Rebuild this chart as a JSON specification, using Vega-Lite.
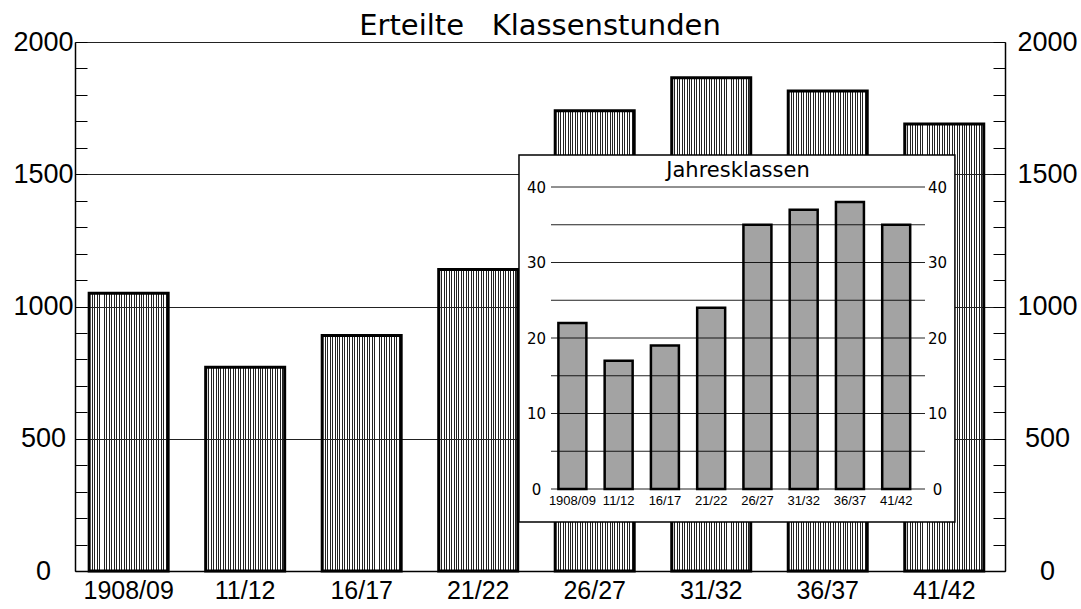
{
  "$schema": "https://vega.github.io/schema/vega-lite/v6.json",
  "width": 930,
  "height": 529,
  "autosize": "none",
  "padding": {"left": 75, "top": 42, "right": 76, "bottom": 38},
  "background": "white",
  "config": {"view": {"stroke": null}},
  "title": {"text": "Erteilte\u00a0\u00a0\u00a0Klassenstunden", "font": "DejaVu Sans", "fontSize": 29, "fontWeight": "normal", "color": "black", "anchor": "middle", "frame": "group", "offset": -13},
  "datasets": {
    "d": [
      {"period": "1908/09", "stunden": 1050, "klassen": 22},
      {"period": "11/12", "stunden": 770, "klassen": 17},
      {"period": "16/17", "stunden": 890, "klassen": 19},
      {"period": "21/22", "stunden": 1140, "klassen": 24},
      {"period": "26/27", "stunden": 1740, "klassen": 35},
      {"period": "31/32", "stunden": 1865, "klassen": 37},
      {"period": "36/37", "stunden": 1815, "klassen": 38},
      {"period": "41/42", "stunden": 1690, "klassen": 35}
    ]
  },
  "data": {"name": "d"},
  "layer": [
    {
      "mark": {"type": "bar", "stroke": "black", "strokeWidth": 3, "fill": {"gradient": "linear", "x1": 0, "y1": 0, "x2": 1, "y2": 0, "stops": [
        {"offset": 0, "color": "#222"}, {"offset": 0.0125, "color": "#222"}, {"offset": 0.0125, "color": "transparent"}, {"offset": 0.03125, "color": "transparent"},
        {"offset": 0.03125, "color": "#222"}, {"offset": 0.04375, "color": "#222"}, {"offset": 0.04375, "color": "transparent"}, {"offset": 0.0625, "color": "transparent"},
        {"offset": 0.0625, "color": "#222"}, {"offset": 0.075, "color": "#222"}, {"offset": 0.075, "color": "transparent"}, {"offset": 0.09375, "color": "transparent"},
        {"offset": 0.09375, "color": "#222"}, {"offset": 0.10625, "color": "#222"}, {"offset": 0.10625, "color": "transparent"}, {"offset": 0.125, "color": "transparent"},
        {"offset": 0.125, "color": "#222"}, {"offset": 0.1375, "color": "#222"}, {"offset": 0.1375, "color": "transparent"}, {"offset": 0.15625, "color": "transparent"},
        {"offset": 0.15625, "color": "#222"}, {"offset": 0.16875, "color": "#222"}, {"offset": 0.16875, "color": "transparent"}, {"offset": 0.1875, "color": "transparent"},
        {"offset": 0.1875, "color": "#222"}, {"offset": 0.2, "color": "#222"}, {"offset": 0.2, "color": "transparent"}, {"offset": 0.21875, "color": "transparent"},
        {"offset": 0.21875, "color": "#222"}, {"offset": 0.23125, "color": "#222"}, {"offset": 0.23125, "color": "transparent"}, {"offset": 0.25, "color": "transparent"},
        {"offset": 0.25, "color": "#222"}, {"offset": 0.2625, "color": "#222"}, {"offset": 0.2625, "color": "transparent"}, {"offset": 0.28125, "color": "transparent"},
        {"offset": 0.28125, "color": "#222"}, {"offset": 0.29375, "color": "#222"}, {"offset": 0.29375, "color": "transparent"}, {"offset": 0.3125, "color": "transparent"},
        {"offset": 0.3125, "color": "#222"}, {"offset": 0.325, "color": "#222"}, {"offset": 0.325, "color": "transparent"}, {"offset": 0.34375, "color": "transparent"},
        {"offset": 0.34375, "color": "#222"}, {"offset": 0.35625, "color": "#222"}, {"offset": 0.35625, "color": "transparent"}, {"offset": 0.375, "color": "transparent"},
        {"offset": 0.375, "color": "#222"}, {"offset": 0.3875, "color": "#222"}, {"offset": 0.3875, "color": "transparent"}, {"offset": 0.40625, "color": "transparent"},
        {"offset": 0.40625, "color": "#222"}, {"offset": 0.41875, "color": "#222"}, {"offset": 0.41875, "color": "transparent"}, {"offset": 0.4375, "color": "transparent"},
        {"offset": 0.4375, "color": "#222"}, {"offset": 0.45, "color": "#222"}, {"offset": 0.45, "color": "transparent"}, {"offset": 0.46875, "color": "transparent"},
        {"offset": 0.46875, "color": "#222"}, {"offset": 0.48125, "color": "#222"}, {"offset": 0.48125, "color": "transparent"}, {"offset": 0.5, "color": "transparent"},
        {"offset": 0.5, "color": "#222"}, {"offset": 0.5125, "color": "#222"}, {"offset": 0.5125, "color": "transparent"}, {"offset": 0.53125, "color": "transparent"},
        {"offset": 0.53125, "color": "#222"}, {"offset": 0.54375, "color": "#222"}, {"offset": 0.54375, "color": "transparent"}, {"offset": 0.5625, "color": "transparent"},
        {"offset": 0.5625, "color": "#222"}, {"offset": 0.575, "color": "#222"}, {"offset": 0.575, "color": "transparent"}, {"offset": 0.59375, "color": "transparent"},
        {"offset": 0.59375, "color": "#222"}, {"offset": 0.60625, "color": "#222"}, {"offset": 0.60625, "color": "transparent"}, {"offset": 0.625, "color": "transparent"},
        {"offset": 0.625, "color": "#222"}, {"offset": 0.6375, "color": "#222"}, {"offset": 0.6375, "color": "transparent"}, {"offset": 0.65625, "color": "transparent"},
        {"offset": 0.65625, "color": "#222"}, {"offset": 0.66875, "color": "#222"}, {"offset": 0.66875, "color": "transparent"}, {"offset": 0.6875, "color": "transparent"},
        {"offset": 0.6875, "color": "#222"}, {"offset": 0.7, "color": "#222"}, {"offset": 0.7, "color": "transparent"}, {"offset": 0.71875, "color": "transparent"},
        {"offset": 0.71875, "color": "#222"}, {"offset": 0.73125, "color": "#222"}, {"offset": 0.73125, "color": "transparent"}, {"offset": 0.75, "color": "transparent"},
        {"offset": 0.75, "color": "#222"}, {"offset": 0.7625, "color": "#222"}, {"offset": 0.7625, "color": "transparent"}, {"offset": 0.78125, "color": "transparent"},
        {"offset": 0.78125, "color": "#222"}, {"offset": 0.79375, "color": "#222"}, {"offset": 0.79375, "color": "transparent"}, {"offset": 0.8125, "color": "transparent"},
        {"offset": 0.8125, "color": "#222"}, {"offset": 0.825, "color": "#222"}, {"offset": 0.825, "color": "transparent"}, {"offset": 0.84375, "color": "transparent"},
        {"offset": 0.84375, "color": "#222"}, {"offset": 0.85625, "color": "#222"}, {"offset": 0.85625, "color": "transparent"}, {"offset": 0.875, "color": "transparent"},
        {"offset": 0.875, "color": "#222"}, {"offset": 0.8875, "color": "#222"}, {"offset": 0.8875, "color": "transparent"}, {"offset": 0.90625, "color": "transparent"},
        {"offset": 0.90625, "color": "#222"}, {"offset": 0.91875, "color": "#222"}, {"offset": 0.91875, "color": "transparent"}, {"offset": 0.9375, "color": "transparent"},
        {"offset": 0.9375, "color": "#222"}, {"offset": 0.95, "color": "#222"}, {"offset": 0.95, "color": "transparent"}, {"offset": 0.96875, "color": "transparent"},
        {"offset": 0.96875, "color": "#222"}, {"offset": 0.98125, "color": "#222"}, {"offset": 0.98125, "color": "transparent"}, {"offset": 1, "color": "transparent"}
      ]}},
      "encoding": {
        "x": {"field": "period", "type": "nominal", "sort": null,
          "scale": {"paddingInner": 0.322, "paddingOuter": 0.152, "align": 0.4},
          "axis": {"title": null, "orient": "bottom", "ticks": false, "tickSize": 0, "domain": true, "domainColor": "black", "domainWidth": 1.5, "labelAngle": 0, "labelFont": "Liberation Sans", "labelFontSize": 25, "labelColor": "black", "labelPadding": 7}},
        "y": {"field": "stunden", "type": "quantitative",
          "scale": {"domain": [0, 2000], "nice": false, "zero": true},
          "axis": {"title": null, "orient": "left", "format": "d",
            "values": [0, 100, 200, 300, 400, 500, 600, 700, 800, 900, 1000, 1100, 1200, 1300, 1400, 1500, 1600, 1700, 1800, 1900, 2000],
            "labelExpr": "datum.value % 500 === 0 ? datum.label : ''",
            "labelOverlap": false, "tickSize": -12, "tickColor": "black", "tickWidth": 1,
            "domain": true, "domainColor": "black", "domainWidth": 1.5,
            "grid": true, "gridColor": "#222", "gridWidth": 1.2,
            "gridOpacity": {"condition": {"test": "datum.value % 500 === 0", "value": 1}, "value": 0},
            "labelAlign": "center", "labelBaseline": "middle", "labelPadding": 44,
            "labelFont": "Liberation Sans", "labelFontSize": 27, "labelColor": "black"}}
      }
    },
    {
      "mark": {"type": "bar", "opacity": 0},
      "encoding": {
        "x": {"field": "period", "type": "nominal", "sort": null,
          "scale": {"paddingInner": 0.322, "paddingOuter": 0.152, "align": 0.4}, "axis": null},
        "y": {"field": "stunden", "type": "quantitative",
          "scale": {"domain": [0, 2000], "nice": false, "zero": true},
          "axis": {"title": null, "orient": "right", "format": "d",
            "values": [0, 100, 200, 300, 400, 500, 600, 700, 800, 900, 1000, 1100, 1200, 1300, 1400, 1500, 1600, 1700, 1800, 1900, 2000],
            "labelExpr": "datum.value % 500 === 0 ? datum.label : ''",
            "labelOverlap": false, "tickSize": -12, "tickColor": "black", "tickWidth": 1,
            "domain": true, "domainColor": "black", "domainWidth": 1.5, "grid": false,
            "labelAlign": "center", "labelBaseline": "middle", "labelPadding": 54,
            "labelFont": "Liberation Sans", "labelFontSize": 27, "labelColor": "black"}}
      }
    },
    {
      "data": {"values": [{"box": "Jahresklassen"}]},
      "mark": {"type": "rect", "fill": "white", "stroke": "black", "strokeWidth": 1.5},
      "encoding": {
        "x": {"datum": -0.0856, "type": "quantitative", "scale": {"domain": [0, 1], "range": [476, 850], "nice": false, "zero": false}, "axis": null},
        "x2": {"datum": 1.08},
        "y": {"datum": -4.37, "type": "quantitative", "scale": {"domain": [0, 40], "range": [447, 145], "nice": false, "zero": false}, "axis": null},
        "y2": {"datum": 44.24}
      }
    },
    {
      "data": {"values": [{"v": 0}, {"v": 5}, {"v": 10}, {"v": 15}, {"v": 20}, {"v": 25}, {"v": 30}, {"v": 35}, {"v": 40}]},
      "mark": {"type": "rule", "color": "#222", "strokeWidth": 1},
      "encoding": {
        "x": {"datum": 0, "type": "quantitative", "scale": {"domain": [0, 1], "range": [476, 850], "nice": false, "zero": false}, "axis": null},
        "x2": {"datum": 1},
        "y": {"field": "v", "type": "quantitative", "scale": {"domain": [0, 40], "range": [447, 145], "nice": false, "zero": false},
          "axis": {"title": null, "orient": "left", "offset": -476, "zindex": 1, "values": [0, 10, 20, 30, 40], "domain": false, "ticks": false, "tickSize": 0, "grid": false, "labelOverlap": false, "labelAlign": "center", "labelBaseline": "middle", "labelPadding": 15, "labelFont": "DejaVu Sans", "labelFontSize": 15, "labelColor": "black"}}
      }
    },
    {
      "data": {"values": [{"v": 0}, {"v": 40}]},
      "mark": {"type": "rule", "opacity": 0},
      "encoding": {
        "x": {"datum": 0, "type": "quantitative", "scale": {"domain": [0, 1], "range": [476, 850], "nice": false, "zero": false}, "axis": null},
        "x2": {"datum": 1},
        "y": {"field": "v", "type": "quantitative", "scale": {"domain": [0, 40], "range": [447, 145], "nice": false, "zero": false},
          "axis": {"title": null, "orient": "right", "offset": -80, "zindex": 1, "values": [0, 10, 20, 30, 40], "domain": false, "ticks": false, "tickSize": 0, "grid": false, "labelOverlap": false, "labelAlign": "center", "labelBaseline": "middle", "labelPadding": 12, "labelFont": "DejaVu Sans", "labelFontSize": 15, "labelColor": "black"}}
      }
    },
    {
      "mark": {"type": "bar", "fill": "rgba(0,0,0,0.36)", "stroke": "black", "strokeWidth": 2.5},
      "encoding": {
        "x": {"field": "period", "type": "nominal", "sort": null,
          "scale": {"range": [476, 850], "paddingInner": 0.395, "paddingOuter": 0.24, "align": 0.333},
          "axis": {"title": null, "orient": "bottom", "offset": -82, "zindex": 1, "domain": false, "ticks": false, "tickSize": 0, "labelAngle": 0, "labelFont": "Liberation Sans", "labelFontSize": 13, "labelColor": "black", "labelPadding": 5}},
        "y": {"field": "klassen", "type": "quantitative", "scale": {"domain": [0, 40], "range": [447, 145], "nice": false, "zero": false}, "axis": null}
      }
    },
    {
      "data": {"values": [{"t": "Jahresklassen"}]},
      "mark": {"type": "text", "font": "DejaVu Sans", "fontSize": 21, "color": "black", "align": "center", "baseline": "middle"},
      "encoding": {
        "text": {"field": "t"},
        "x": {"datum": 0.5, "type": "quantitative", "scale": {"domain": [0, 1], "range": [476, 850], "nice": false, "zero": false}, "axis": null},
        "y": {"datum": 42.1, "type": "quantitative", "scale": {"domain": [0, 40], "range": [447, 145], "nice": false, "zero": false}, "axis": null}
      }
    }
  ],
  "resolve": {"scale": {"x": "independent", "y": "independent"}}
}
